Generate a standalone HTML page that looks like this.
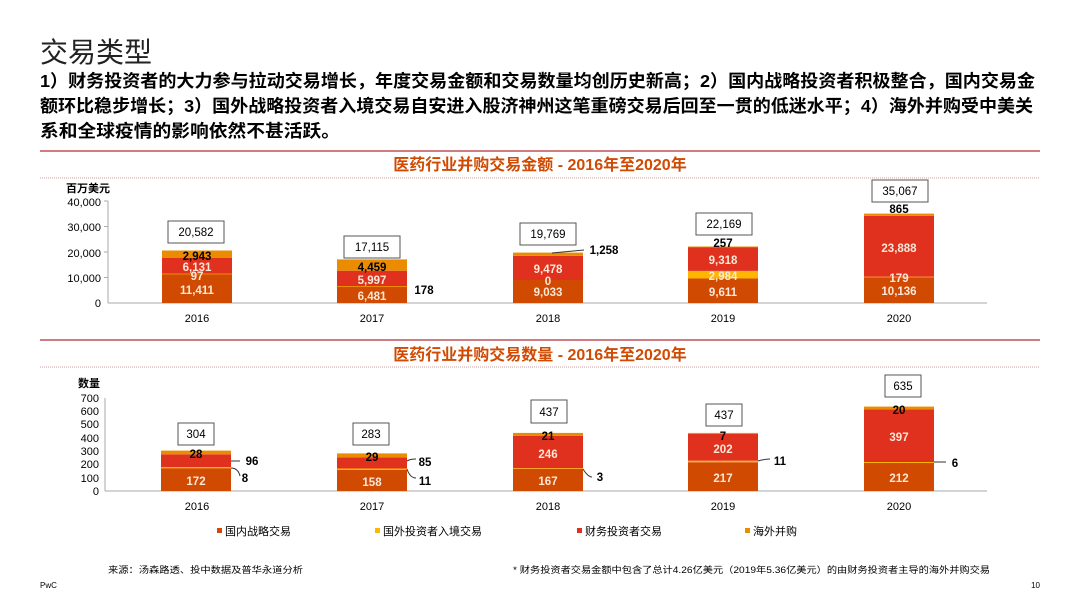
<!DOCTYPE html>
<html><head><meta charset="utf-8"><style>
body{margin:0;width:1080px;height:608px;background:#fff;overflow:hidden;font-family:"Liberation Sans","Noto Sans CJK SC",sans-serif}
svg text{font-family:"Liberation Sans","Noto Sans CJK SC",sans-serif}
</style></head><body>
<svg width="1080" height="608" viewBox="0 0 1080 608" xmlns="http://www.w3.org/2000/svg">
<text x="40" y="62" font-size="28" fill="#222">交易类型</text>
<g font-size="17.5" fill="#000" font-weight="bold">
<text x="40" y="87" textLength="995" lengthAdjust="spacingAndGlyphs">1）财务投资者的大力参与拉动交易增长，年度交易金额和交易数量均创历史新高；2）国内战略投资者积极整合，国内交易金</text>
<text x="40" y="112" textLength="993" lengthAdjust="spacingAndGlyphs">额环比稳步增长；3）国外战略投资者入境交易自安进入股济神州这笔重磅交易后回至一贯的低迷水平；4）海外并购受中美关</text>
<text x="40" y="137" textLength="300" lengthAdjust="spacingAndGlyphs">系和全球疫情的影响依然不甚活跃。</text>
</g>
<line x1="40" y1="151" x2="1040" y2="151" stroke="#c0505a" stroke-width="1.5"/>
<text x="540" y="170" font-size="16" fill="#d04a02" text-anchor="middle" font-weight="bold">医药行业并购交易金额 - 2016年至2020年</text>
<line x1="40" y1="178" x2="1040" y2="178" stroke="#c8a0a0" stroke-width="1" stroke-dasharray="1,1"/>
<text x="66" y="192" font-size="11" font-weight="bold" fill="#000">百万美元</text>
<g font-size="11" fill="#000" text-anchor="end">
<text x="101" y="206">40,000</text><text x="101" y="231">30,000</text><text x="101" y="257">20,000</text><text x="101" y="282">10,000</text><text x="101" y="307">0</text>
</g>
<line x1="108" y1="201" x2="108" y2="303" stroke="#aaa"/>
<line x1="108" y1="303" x2="987" y2="303" stroke="#aaa"/>
<g stroke="#aaa"><line x1="104" y1="201" x2="108" y2="201"/><line x1="104" y1="226.5" x2="108" y2="226.5"/><line x1="104" y1="252" x2="108" y2="252"/><line x1="104" y1="277.5" x2="108" y2="277.5"/></g>
<g font-size="11" fill="#000" text-anchor="middle">
<text x="197" y="322">2016</text><text x="372" y="322">2017</text><text x="548" y="322">2018</text><text x="723" y="322">2019</text><text x="899" y="322">2020</text>
</g>
<g>
<rect x="162" y="273.9" width="70" height="29.1" fill="#d04a02"/><rect x="162" y="273.7" width="70" height="0.6" fill="#ffb600"/><rect x="162" y="258" width="70" height="15.7" fill="#e0301e"/><rect x="162" y="250.5" width="70" height="7.5" fill="#eb8c00"/>
<rect x="337" y="286.5" width="70" height="16.5" fill="#d04a02"/><rect x="337" y="286" width="70" height="0.6" fill="#ffb600"/><rect x="337" y="270.7" width="70" height="15.3" fill="#e0301e"/><rect x="337" y="259.4" width="70" height="11.3" fill="#eb8c00"/>
<rect x="513" y="280" width="70" height="23" fill="#d04a02"/><rect x="513" y="255.8" width="70" height="24.2" fill="#e0301e"/><rect x="513" y="252.6" width="70" height="3.2" fill="#eb8c00"/>
<rect x="688" y="278.5" width="70" height="24.5" fill="#d04a02"/><rect x="688" y="270.9" width="70" height="7.6" fill="#ffb600"/><rect x="688" y="247.1" width="70" height="23.8" fill="#e0301e"/><rect x="688" y="246.5" width="70" height="0.8" fill="#eb8c00"/>
<rect x="864" y="277.2" width="70" height="25.8" fill="#d04a02"/><rect x="864" y="276.7" width="70" height="0.6" fill="#ffb600"/><rect x="864" y="215.8" width="70" height="60.9" fill="#e0301e"/><rect x="864" y="213.6" width="70" height="2.2" fill="#eb8c00"/>
</g>
<g font-size="11.5" font-weight="bold" text-anchor="middle" fill="#fce8d8">
<text x="197" y="294">11,411</text><text x="197" y="280">97</text><text x="197" y="271">6,131</text>
<text x="372" y="300">6,481</text><text x="372" y="284">5,997</text>
<text x="548" y="296">9,033</text><text x="548" y="285">0</text><text x="548" y="273">9,478</text>
<text x="723" y="296">9,611</text><text x="723" y="280">2,984</text><text x="723" y="264">9,318</text>
<text x="899" y="295">10,136</text><text x="899" y="282">179</text><text x="899" y="252">23,888</text>
</g>
<g font-size="11.5" font-weight="bold" text-anchor="middle" fill="#000">
<text x="197" y="260">2,943</text><text x="372" y="271">4,459</text><text x="723" y="247">257</text><text x="899" y="213">865</text>
<text x="424" y="294">178</text><text x="604" y="254">1,258</text>
</g>
<line x1="552" y1="253" x2="584" y2="250" stroke="#333"/>
<g fill="#fff" stroke="#555" stroke-width="1">
<rect x="168" y="221" width="56" height="22"/><rect x="344" y="236" width="56" height="22"/><rect x="520" y="223" width="56" height="22"/><rect x="696" y="213" width="56" height="22"/><rect x="872" y="180" width="56" height="22"/>
</g>
<g font-size="11.5" text-anchor="middle" fill="#000">
<text x="196" y="236">20,582</text><text x="372" y="251">17,115</text><text x="548" y="238">19,769</text><text x="724" y="228">22,169</text><text x="900" y="195">35,067</text>
</g>
<line x1="40" y1="340" x2="1040" y2="340" stroke="#c0505a" stroke-width="1.5"/>
<text x="540" y="360" font-size="16" fill="#d04a02" text-anchor="middle" font-weight="bold">医药行业并购交易数量 - 2016年至2020年</text>
<line x1="40" y1="367" x2="1040" y2="367" stroke="#c8a0a0" stroke-width="1" stroke-dasharray="1,1"/>
<text x="78" y="387" font-size="11" font-weight="bold" fill="#000">数量</text>
<g font-size="11" fill="#000" text-anchor="end">
<text x="99" y="402">700</text><text x="99" y="415">600</text><text x="99" y="428">500</text><text x="99" y="442">400</text><text x="99" y="455">300</text><text x="99" y="468">200</text><text x="99" y="482">100</text><text x="99" y="495">0</text>
</g>
<line x1="105" y1="398" x2="105" y2="491" stroke="#aaa"/>
<line x1="105" y1="491" x2="987" y2="491" stroke="#aaa"/>
<g font-size="11" fill="#000" text-anchor="middle">
<text x="197" y="510">2016</text><text x="372" y="510">2017</text><text x="548" y="510">2018</text><text x="723" y="510">2019</text><text x="899" y="510">2020</text>
</g>
<g>
<rect x="161" y="468.1" width="70" height="22.9" fill="#d04a02"/><rect x="161" y="467.1" width="70" height="1.2" fill="#ffb600"/><rect x="161" y="454.3" width="70" height="12.8" fill="#e0301e"/><rect x="161" y="450.6" width="70" height="3.7" fill="#eb8c00"/>
<rect x="337" y="470" width="70" height="21" fill="#d04a02"/><rect x="337" y="468.5" width="70" height="1.5" fill="#ffb600"/><rect x="337" y="457.3" width="70" height="11.2" fill="#e0301e"/><rect x="337" y="453.4" width="70" height="3.9" fill="#eb8c00"/>
<rect x="513" y="468.8" width="70" height="22.2" fill="#d04a02"/><rect x="513" y="468.2" width="70" height="0.8" fill="#ffb600"/><rect x="513" y="435.7" width="70" height="32.5" fill="#e0301e"/><rect x="513" y="432.9" width="70" height="2.8" fill="#eb8c00"/>
<rect x="688" y="462.2" width="70" height="28.8" fill="#d04a02"/><rect x="688" y="460.7" width="70" height="1.5" fill="#ffb600"/><rect x="688" y="433.9" width="70" height="26.8" fill="#e0301e"/><rect x="688" y="432.9" width="70" height="1" fill="#eb8c00"/>
<rect x="864" y="462.8" width="70" height="28.2" fill="#d04a02"/><rect x="864" y="462" width="70" height="1" fill="#ffb600"/><rect x="864" y="409.3" width="70" height="52.7" fill="#e0301e"/><rect x="864" y="406.6" width="70" height="2.7" fill="#eb8c00"/>
</g>
<g font-size="11.5" font-weight="bold" text-anchor="middle" fill="#fce8d8">
<text x="196" y="485">172</text><text x="372" y="486">158</text><text x="548" y="485">167</text><text x="548" y="458">246</text><text x="723" y="482">217</text><text x="723" y="453">202</text><text x="899" y="482">212</text><text x="899" y="441">397</text>
</g>
<g font-size="11.5" font-weight="bold" text-anchor="middle" fill="#000">
<text x="196" y="458">28</text><text x="372" y="461">29</text><text x="548" y="440">21</text><text x="723" y="440">7</text><text x="899" y="414">20</text>
<text x="252" y="465">96</text><text x="245" y="482">8</text><text x="425" y="466">85</text><text x="425" y="485">11</text><text x="600" y="481">3</text><text x="780" y="465">11</text><text x="955" y="467">6</text>
</g>
<g stroke="#333" fill="none">
<path d="M231 461 L240 461"/><path d="M231 468 Q238 468 240 476"/>
<path d="M407 461 Q410 459 416 459"/><path d="M407 469 Q410 478 416 478"/>
<path d="M583 469 Q588 477 592 477"/><path d="M758 461 Q765 459 770 459"/><path d="M934 462 L946 462"/>
</g>
<g fill="#fff" stroke="#555" stroke-width="1">
<rect x="178" y="423" width="36" height="22"/><rect x="353" y="423" width="36" height="22"/><rect x="531" y="400" width="36" height="23"/><rect x="706" y="404" width="36" height="22"/><rect x="885" y="375" width="36" height="22"/>
</g>
<g font-size="11.5" text-anchor="middle" fill="#000">
<text x="196" y="438">304</text><text x="371" y="438">283</text><text x="549" y="416">437</text><text x="724" y="419">437</text><text x="903" y="390">635</text>
</g>
<g font-size="11" fill="#000">
<rect x="217" y="528" width="5" height="5" fill="#d04a02"/><text x="225" y="535">国内战略交易</text>
<rect x="375" y="528" width="5" height="5" fill="#ffb600"/><text x="383" y="535">国外投资者入境交易</text>
<rect x="577" y="528" width="5" height="5" fill="#e0301e"/><text x="585" y="535">财务投资者交易</text>
<rect x="745" y="528" width="5" height="5" fill="#eb8c00"/><text x="753" y="535">海外并购</text>
</g>
<text x="108" y="573" font-size="9" fill="#000" textLength="195" lengthAdjust="spacingAndGlyphs">来源：汤森路透、投中数据及普华永道分析</text>
<text x="513" y="573" font-size="9" fill="#000" textLength="477" lengthAdjust="spacingAndGlyphs">* 财务投资者交易金额中包含了总计4.26亿美元（2019年5.36亿美元）的由财务投资者主导的海外并购交易</text>
<text x="40" y="588" font-size="8" fill="#000">PwC</text>
<text x="1040" y="588" font-size="8" fill="#000" text-anchor="end">10</text>
</svg>
</body></html>
